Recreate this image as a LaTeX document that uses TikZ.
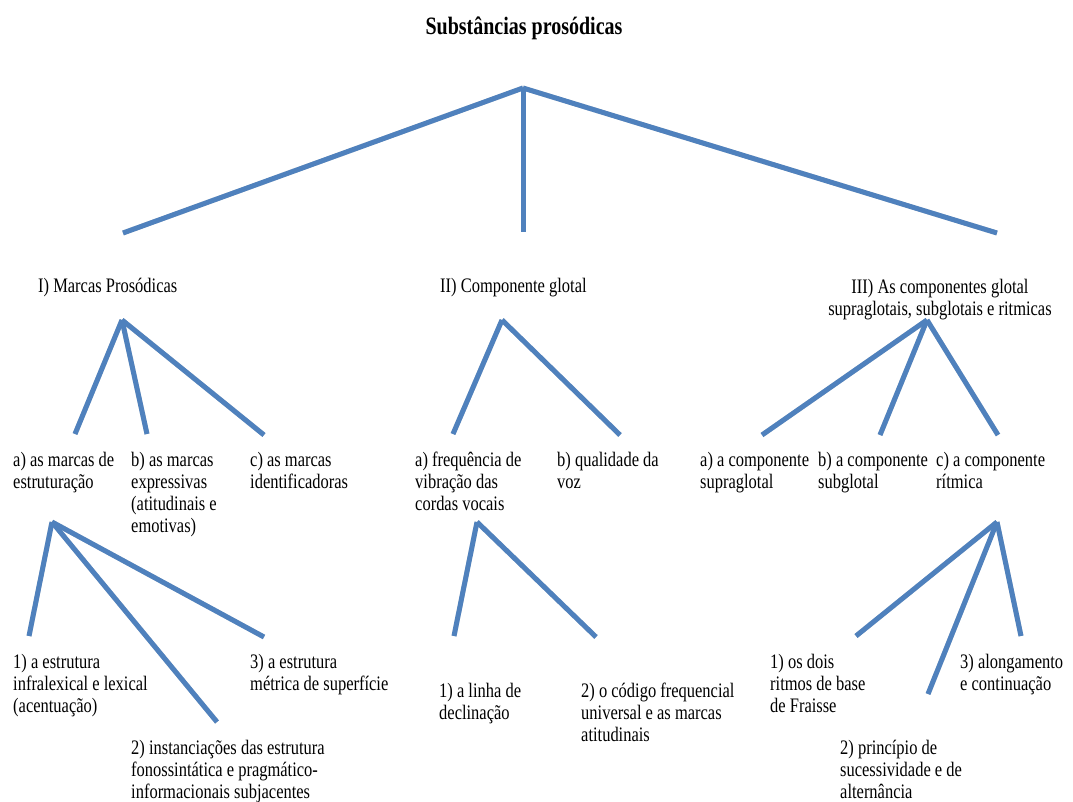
\documentclass[tikz,border=0pt]{standalone}
\usepackage{fontspec}
\setmainfont{Liberation Serif}[FakeStretch=0.8]
\definecolor{branch}{HTML}{4F81BD}
\tikzset{
  x=1pt, y=-1pt,
  % labels are placed by the baseline of their last line
  lbl/.style={anchor=base west, inner sep=0pt, align=left, font=\fontsize{20.6}{22}\selectfont},
  branchline/.style={draw=branch, line width=5pt},
  shade/.style={draw=black!45, opacity=0.35, line width=5pt, shift={(1.5,2.5)}},
}
\newcommand{\fork}[2]{%
  \foreach \e in {#2} {\draw[shade] (#1) -- (\e);}
  \foreach \e in {#2} {\draw[branchline] (#1) -- (\e);}
}
\begin{document}
\begin{tikzpicture}
\useasboundingbox (0,0) rectangle (1073,801);

% title
\node[font=\fontsize{25}{26}\selectfont\bfseries, anchor=base] (title) at (524,34) {Substâncias prosódicas};

% branch points
\coordinate (root) at (523,88);
\coordinate (rL) at (123,233);
\coordinate (rM) at (523,232);
\coordinate (rR) at (997,233);

\coordinate (p1) at (122,320);
\coordinate (p1a) at (75,434);
\coordinate (p1b) at (147,434);
\coordinate (p1c) at (264,435);

\coordinate (q1) at (52,522);
\coordinate (q1a) at (29,636);
\coordinate (q1b) at (217,722);
\coordinate (q1c) at (264,637);

\coordinate (p2) at (502,320);
\coordinate (p2a) at (453,434);
\coordinate (p2b) at (620,435);

\coordinate (q2) at (477,522);
\coordinate (q2a) at (454,636);
\coordinate (q2b) at (596,637);

\coordinate (p3) at (927,320);
\coordinate (p3a) at (762,435);
\coordinate (p3b) at (880,435);
\coordinate (p3c) at (998,435);

\coordinate (q3) at (997,522);
\coordinate (q3a) at (856,636);
\coordinate (q3b) at (928,694);
\coordinate (q3c) at (1021,636);

\fork{root}{rL,rM,rR}
\fork{p1}{p1a,p1b,p1c}
\fork{q1}{q1a,q1b,q1c}
\fork{p2}{p2a,p2b}
\fork{q2}{q2a,q2b}
\fork{p3}{p3a,p3b,p3c}
\fork{q3}{q3a,q3b,q3c}

% first level
\node[lbl] (t1) at (38,292) {I) Marcas Prosódicas};
\node[lbl] (t2) at (440,292) {II) Componente glotal};
\node[lbl, align=center, anchor=base] (t3) at (940,315) {III) As componentes glotal\\supraglotais, subglotais e ritmicas};

% second level
\node[lbl] (t1a) at (13,488) {a) as marcas de\\estruturação};
\node[lbl] (t1b) at (131,532) {b) as marcas\\expressivas\\(atitudinais e\\emotivas)};
\node[lbl] (t1c) at (250,488) {c) as marcas\\identificadoras};

\node[lbl] (t2a) at (415,510) {a) frequência de\\vibração das\\cordas vocais};
\node[lbl] (t2b) at (557,488) {b) qualidade da\\voz};

\node[lbl] (t3a) at (700,488) {a) a componente\\supraglotal};
\node[lbl] (t3b) at (818,488) {b) a componente\\subglotal};
\node[lbl] (t3c) at (936,488) {c) a componente\\rítmica};

% third level
\node[lbl] (u1a) at (13,712) {1) a estrutura\\infralexical e lexical\\(acentuação)};
\node[lbl] (u1b) at (131,798) {2) instanciações das estrutura\\fonossintática e pragmático-\\informacionais subjacentes};
\node[lbl] (u1c) at (250,690) {3) a estrutura\\métrica de superfície};

\node[lbl] (u2a) at (439,719) {1) a linha de\\declinação};
\node[lbl] (u2b) at (581,741) {2) o código frequencial\\universal e as marcas\\atitudinais};

\node[lbl] (u3a) at (770,712) {1) os dois\\ritmos de base\\de Fraisse};
\node[lbl] (u3b) at (840,798) {2) princípio de\\sucessividade e de\\alternância};
\node[lbl] (u3c) at (960,690) {3) alongamento\\e continuação};
\end{tikzpicture}
\end{document}
